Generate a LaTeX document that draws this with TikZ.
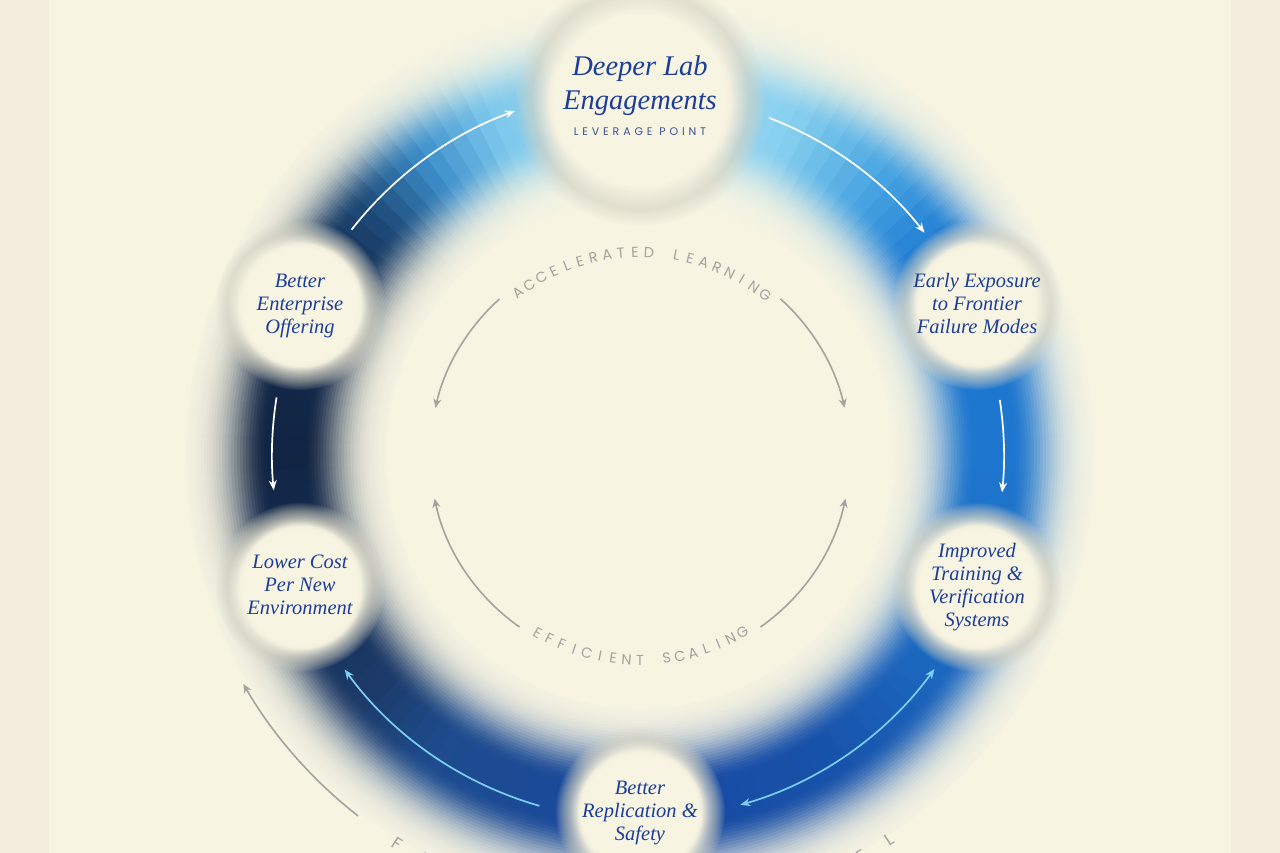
\documentclass[tikz,border=0pt]{standalone}
\usepackage{fontspec}
\setmainfont{Liberation Serif}
\newfontfamily\capsfont{Poppins}
\newfontfamily\capsspaced[LetterSpace=35]{Poppins}
\usetikzlibrary{arrows.meta,fadings,calc}

\definecolor{bgc}{HTML}{F7F4E2}
\definecolor{stripc}{HTML}{F3EDDD}
\definecolor{inkblue}{HTML}{1D3E98}
\definecolor{capblue}{HTML}{3A5494}
\definecolor{arcgray}{HTML}{A4A3A0}
\definecolor{lightarrow}{HTML}{7CCFF2}
\definecolor{halogray}{HTML}{9E9B8E}
\definecolor{r1}{HTML}{112442}
\definecolor{r2}{HTML}{1C3A68}
\definecolor{r3}{HTML}{1E4C8E}
\definecolor{r4}{HTML}{1848A0}
\definecolor{r5}{HTML}{1852AA}
\definecolor{r6}{HTML}{1C66BE}
\definecolor{r7}{HTML}{1E76CE}
\definecolor{r8}{HTML}{1E7AD2}
\definecolor{r9}{HTML}{4AA6E2}
\definecolor{r10}{HTML}{88D0F0}
\definecolor{r11}{HTML}{A6DAF0}
\definecolor{r12}{HTML}{7CC8EC}
\definecolor{r13}{HTML}{3E90CC}
\definecolor{r14}{HTML}{1E4A78}
\definecolor{r15}{HTML}{163056}
\definecolor{r16}{HTML}{112442}

\pgfdeclareradialshading{creamfadeshade}{\pgfpointorigin}{color(0bp)=(white); color(18bp)=(white); color(25bp)=(black); color(50bp)=(black)}
\pgfdeclarefading{creamfade}{\pgfuseshading{creamfadeshade}}
\pgfdeclareradialshading{halofadeshade}{\pgfpointorigin}{color(0bp)=(black); color(17bp)=(black); color(21.5bp)=(black!76); color(25bp)=(black); color(50bp)=(black)}
\pgfdeclarefading{halofade}{\pgfuseshading{halofadeshade}}

\tikzset{
  smalltext/.style={font=\itshape\fontsize{20.5}{23}\selectfont, text=inkblue, align=center, inner sep=0pt},
  bigtext/.style={font=\itshape\fontsize{28.5}{34}\selectfont, text=inkblue, align=center, inner sep=0pt},
  levstyle/.style={font=\capsspaced\fontsize{11}{13}\selectfont, text=capblue, inner sep=0pt},
  innerlbl/.style={font=\capsfont\fontsize{14.5}{16}\selectfont, text=arcgray, inner sep=0pt},
  outerlbl/.style={font=\capsfont\fontsize{17}{19}\selectfont, text=arcgray, inner sep=0pt},
  whitearr/.style={draw=white, line width=1.7pt, -{Stealth[length=10pt,width=8pt]}},
  bluearr/.style={draw=lightarrow, line width=1.7pt, -{Stealth[length=10pt,width=8pt]}},
  bluedouble/.style={draw=lightarrow, line width=1.7pt, {Stealth[length=10pt,width=8pt]}-{Stealth[length=10pt,width=8pt]}},
  grayarr/.style={draw=arcgray, line width=1.6pt, -{Stealth[length=9pt,width=8pt]}},
  creamdisk/.style={fill=bgc, path fading=creamfade},
  graydisk/.style={fill=halogray, path fading=halofade},
}

\newcommand\arcletters[8]{%
  \foreach \ch [count=\ii from 0] in {#8} {
    \pgfmathsetmacro\angA{#5+#6*\ii}
    \pgfmathsetmacro\rotA{\angA+#7}
    \node[#1, rotate=\rotA] (#2\ii) at ($(#3)+(\angA:#4)$) {\ch};
  }%
}

\begin{document}
\begin{tikzpicture}[x=1pt,y=1pt]
\useasboundingbox (0,0) rectangle (1280,853);
\clip (0,0) rectangle (1280,853);
\fill[stripc] (0,0) rectangle (1280,853);
\fill[bgc] (49,0) rectangle (1231,853);
\coordinate (C) at (640,398);

% blurred gradient ring
\def\ringR{354}
\foreach \lw in {100,97,...,19} {
  \pgfmathsetmacro\lst{min(100,100*exp(-((\lw-19)/40)^2))}
  \foreach \a/\b/\ca/\cb in {-180/-139/r1/r2, -139/-124/r2/r3, -124/-90/r3/r4, -90/-58/r4/r5, -58/-37/r5/r6, -37/0/r6/r7, 0/35/r7/r8, 35/50/r8/r9, 50/66/r9/r10, 66/90/r10/r11, 90/114/r11/r12, 114/126/r12/r13, 126/138/r13/r14, 138/148/r14/r15, 148/180/r15/r16} {
    \pgfmathtruncatemacro\nseg{max(1,round((\b-\a)/2.5))}
    \foreach \k in {1,...,\nseg} {
      \pgfmathsetmacro\tA{\a+(\b-\a)*(\k-1)/\nseg-0.3}
      \pgfmathsetmacro\tB{\a+(\b-\a)*\k/\nseg+0.3}
      \pgfmathsetmacro\pmix{100-100*(\k-0.5)/\nseg}
      \colorlet{segc}{\ca!\pmix!\cb}
      \colorlet{layc}{segc!\lst!bgc}
      \draw[layc, line width=2*\lw] ($(C)+(\tA:\ringR)$) arc[start angle=\tA, end angle=\tB, radius=\ringR];
    }
  }
}

% node positions
\coordinate (ptop) at (640,753);
\coordinate (pee) at (977,548);
\coordinate (pit) at (977,266);
\coordinate (pbr) at (640,41);
\coordinate (plc) at (300,266);
\coordinate (pbe) at (300,548);

% soft disks
\fill[creamdisk] (ptop) circle (126);
\fill[graydisk] (ptop) circle (126);
\foreach \p in {pee,pit,pbr,plc,pbe} {
  \fill[creamdisk] (\p) circle (85);
  \fill[graydisk] (\p) circle (85);
}

% texts
\node[bigtext] (top) at (640,767.5) {Deeper Lab\\Engagements};
\node[levstyle] (lev) at (640,721) {LEVERAGE POINT};
\node[smalltext] (ee) at (977,549) {Early Exposure\\to Frontier\\Failure Modes};
\node[smalltext] (it) at (977,266) {Improved\\Training \&\\Verification\\Systems};
\node[smalltext] (br) at (640,40) {Better\\Replication \&\\Safety};
\node[smalltext] (lc) at (300,268) {Lower Cost\\Per New\\Environment};
\node[smalltext] (be) at (300,547) {Better\\Enterprise\\Offering};

% ring arrows
\coordinate (a1) at ($(C)+(142:366)$);
\coordinate (a2) at ($(C)+(69:361)$);
\coordinate (a3) at ($(C)+(8.7:364)$);
\coordinate (a4) at ($(C)+(-36:364)$);
\coordinate (a5) at ($(C)+(-106:365)$);
\coordinate (a6) at ($(C)+(171:368)$);
\draw[whitearr] (a1) arc[start angle=142, end angle=110, radius=366];
\draw[whitearr] (a2) arc[start angle=69, end angle=38, radius=361];
\draw[whitearr] (a3) arc[start angle=8.7, end angle=-5.9, radius=364];
\draw[bluedouble] (a4) arc[start angle=-36, end angle=-74, radius=364];
\draw[bluearr] (a5) arc[start angle=-106, end angle=-144, radius=365];
\draw[whitearr] (a6) arc[start angle=171, end angle=185.5, radius=368];

% inner gray arcs
\coordinate (g1) at ($(C)+(132:210)$);
\coordinate (g2) at ($(C)+(48:210)$);
\coordinate (g3) at ($(C)+(235:210)$);
\coordinate (g4) at ($(C)+(-55:210)$);
\draw[grayarr] (g1) arc[start angle=132, end angle=167, radius=210];
\draw[grayarr] (g2) arc[start angle=48, end angle=13, radius=210];
\draw[grayarr] (g3) arc[start angle=235, end angle=192, radius=210];
\draw[grayarr] (g4) arc[start angle=-55, end angle=-12, radius=210];

% outer gray arc
\coordinate (o1) at ($(C)+(-128:458)$);
\draw[grayarr] (o1) arc[start angle=-128, end angle=-150, radius=458];

% arc labels
\arcletters{innerlbl}{acc}{C}{203}{127}{-3.95}{-90}{A,C,C,E,L,E,R,A,T,E,D,{},L,E,A,R,N,I,N,G}
\arcletters{innerlbl}{eff}{C}{205}{-120}{3.75}{90}{E,F,F,I,C,I,E,N,T,{},S,C,A,L,I,N,G}
\arcletters{outerlbl}{fly}{C}{458}{-122}{4.06}{90}{F,E,E,D,B,A,C,K,{},F,L,Y,W,H,E,E,L}
\end{tikzpicture}
\end{document}
